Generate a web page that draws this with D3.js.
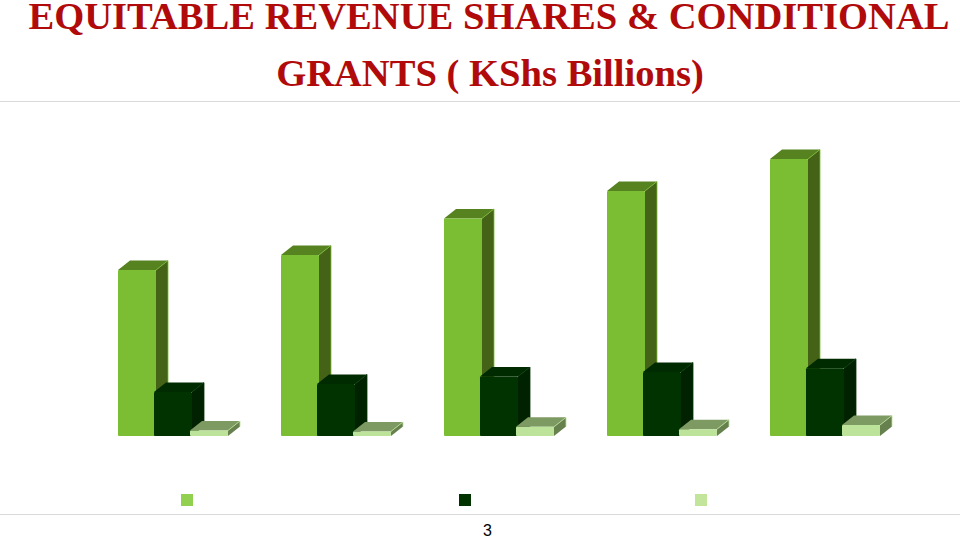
<!DOCTYPE html>
<html>
<head>
<meta charset="utf-8">
<script src="https://cdn.jsdelivr.net/npm/d3@7"></script>
<style>
  html, body { margin: 0; padding: 0; background: #fff; }
  svg { display: block; }
</style>
</head>
<body>
<svg></svg>
<script>
const width = 960;
const height = 540;

// DATA (KShs billions)
const years = ['2013/14', '2014/15', '2015/16', '2016/17', '2017/18'];
const seriesNames = ['equitable', 'conditional', 'other'];
const equitable = [181.5, 198, 238, 268, 303];
const conditional = [48, 57, 65, 70, 74];
const other = [6, 5, 10, 7.5, 12];
const titleLines = ['EQUITABLE REVENUE SHARES & CONDITIONAL', 'GRANTS ( KShs Billions)'];
const pageNumber = '3';

const values = [equitable, conditional, other];

// colours per series
const frontColor = ['#7bbd33', '#003300', '#bde29a'];
const topColor = ['#568320', '#002b00', '#7e9a63'];
const sideColor = ['#456317', '#002200', '#66804e'];
const legendColor = ['#92d050', '#003300', '#c3e59b'];

// SCALES
const baseY = 436;
const depthX = 12;
const depthY = 9.5;
const barW = 38;

const xGroup = d3.scaleBand().domain(years).range([88, 903]);
const xSeries = d3.scalePoint().domain(seriesNames).range([30, 102]);
const yScale = d3.scaleLinear().domain([0, 350]).range([baseY, 116]);
const xLegend = d3.scaleOrdinal().domain(seriesNames).range([181, 459, 695]);

const svg = d3.select('svg')
    .attr('width', width)
    .attr('height', height);

// TITLE
svg.selectAll('.title')
    .data(titleLines)
    .enter()
    .append('text')
        .attr('class', 'title')
        .attr('x', (d, i) => i === 0 ? 489 : 490)
        .attr('y', (d, i) => i === 0 ? 29 : 86)
        .attr('text-anchor', 'middle')
        .attr('font-family', '"Liberation Serif", serif')
        .attr('font-weight', 'bold')
        .attr('font-size', 38.6)
        .attr('fill', '#b00a0a')
        .text(d => d);

// RULES
svg.selectAll('.rule')
    .data([101, 514])
    .enter()
    .append('line')
        .attr('class', 'rule')
        .attr('x1', 0)
        .attr('x2', width)
        .attr('y1', d => d + 0.5)
        .attr('y2', d => d + 0.5)
        .attr('stroke', '#d9d9d9');

// BARS
const bars = [];
years.forEach((year, g) => {
    seriesNames.forEach((name, s) => {
        bars.push({ year, name, s, value: values[s][g] });
    });
});

const bar = svg.selectAll('.bar')
    .data(bars)
    .enter()
    .append('g')
        .attr('class', 'bar')
        .attr('transform', d => `translate(${xGroup(d.year) + xSeries(d.name)}, 0)`);

// top face
bar.append('path')
    .attr('fill', d => topColor[d.s])
    .attr('d', d => {
        const y = yScale(d.value);
        return `M0,${y}L${depthX},${y - depthY}L${barW + depthX},${y - depthY}L${barW},${y}Z`;
    });

// side face
bar.append('path')
    .attr('fill', d => sideColor[d.s])
    .attr('d', d => {
        const y = yScale(d.value);
        return `M${barW},${y}L${barW + depthX},${y - depthY}L${barW + depthX},${baseY - depthY}L${barW},${baseY}Z`;
    });

// thin bright edge round the top right corner
bar.append('path')
    .attr('fill', 'none')
    .attr('stroke', d => frontColor[d.s])
    .attr('stroke-width', 0.8)
    .attr('d', d => {
        const y = yScale(d.value);
        return `M${barW},${y}L${barW + depthX},${y - depthY}L${barW + depthX},${baseY - depthY}`;
    });

// front face
bar.append('rect')
    .attr('width', barW)
    .attr('y', d => yScale(d.value))
    .attr('height', d => baseY - yScale(d.value))
    .attr('rx', 1)
    .attr('fill', d => frontColor[d.s]);

// LEGEND
svg.selectAll('.legend')
    .data(seriesNames)
    .enter()
    .append('rect')
        .attr('class', 'legend')
        .attr('x', d => xLegend(d))
        .attr('y', 494)
        .attr('width', 12)
        .attr('height', 12)
        .attr('fill', (d, i) => legendColor[i]);

// PAGE NUMBER
svg.append('text')
    .attr('x', 487.5)
    .attr('y', 536)
    .attr('text-anchor', 'middle')
    .attr('font-family', '"Liberation Sans", Arial, sans-serif')
    .attr('font-size', 16)
    .attr('fill', '#000')
    .text(pageNumber);
</script>
</body>
</html>
